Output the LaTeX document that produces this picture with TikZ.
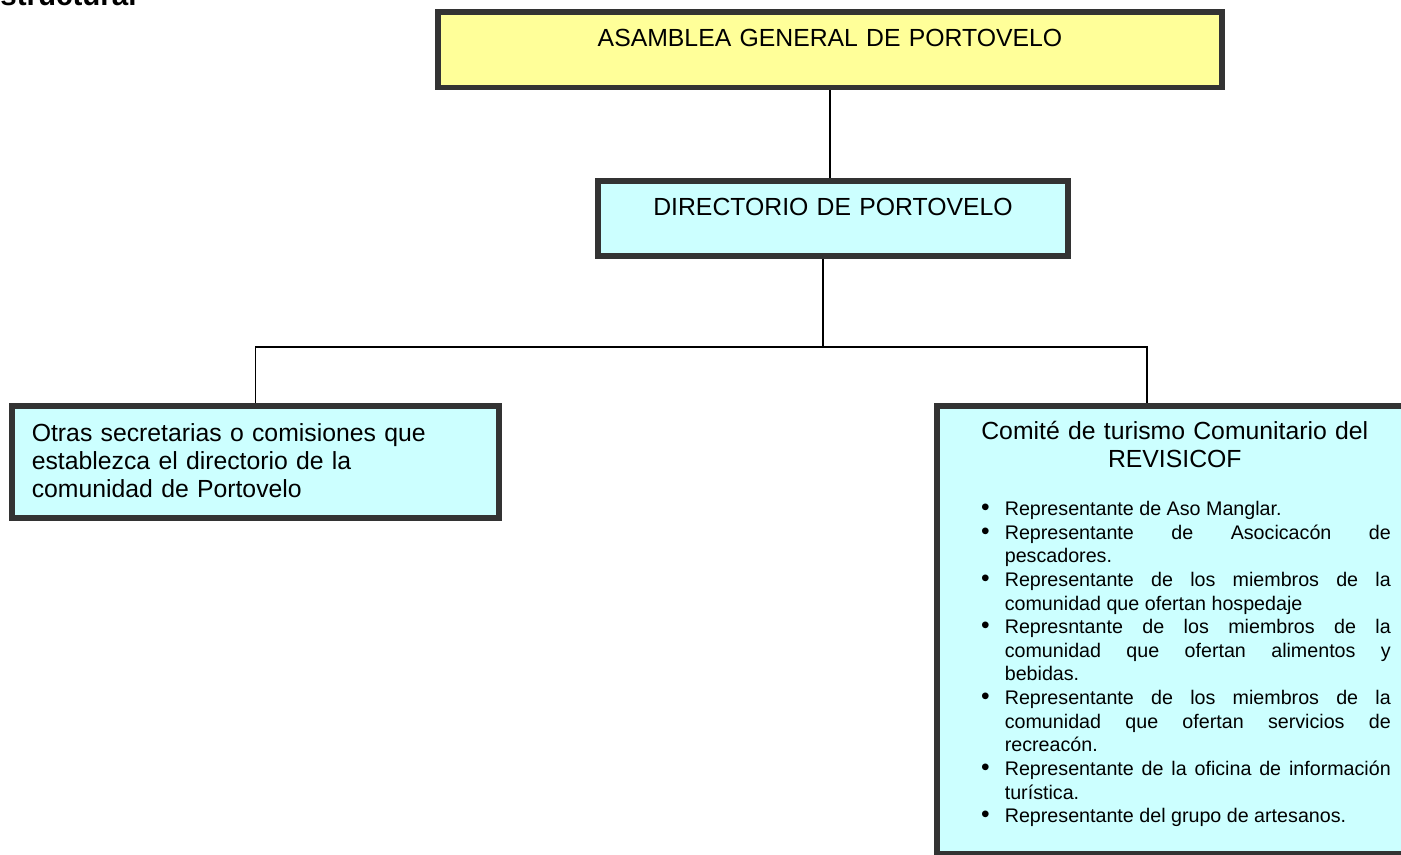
\documentclass[tikz,border=0pt]{standalone}
\usepackage{fontspec}
\setmainfont{Liberation Sans}
\usepackage{enumitem}
\usetikzlibrary{positioning, calc, backgrounds}

\definecolor{cajaamarilla}{HTML}{FFFF99}
\definecolor{cajaceleste}{HTML}{CCFFFF}
\definecolor{bordeoscuro}{HTML}{333333}

\makeatletter
\newcommand{\justificado}{\@rightskip\z@skip \rightskip\@rightskip \leftskip\z@skip
  \parfillskip\z@ plus 1fil \spaceskip\z@ \xspaceskip\z@}
\makeatother

\begin{document}
\begin{tikzpicture}[
  every node/.style={font=\fontsize{14.1}{15.9}\selectfont, inner sep=0pt},
  cargo/.style={rectangle, draw=bordeoscuro, line width=3.2pt, fill=cajaceleste},
  cargoalto/.style={cargo, align=center},
  linea/.style={draw, line width=0.8pt}
]

\path[use as bounding box] (0,0) rectangle (28.02,-17.08);
\clip (0,0) rectangle (28.02,-17.08);

\node[font=\bfseries\fontsize{16.8}{18}\selectfont, anchor=base west] (encabezado) at (0,-0.10) {structural};

\node[cargoalto, fill=cajaamarilla, text width=15.68cm, text height=0.70cm, text depth=0.81cm, anchor=north]
  (asamblea) at (16.60,-0.18) {ASAMBLEA GENERAL DE PORTOVELO};

\node[cargoalto, text width=9.40cm, text height=0.70cm, text depth=0.80cm, anchor=north]
  (directorio) at (16.66,-3.56) {DIRECTORIO DE PORTOVELO};

\node[cargo, align=left, text width=8.94cm, inner xsep=0.4cm, text height=0.72cm, text depth=1.52cm, anchor=north west]
  (otras) at (0.18,-8.06) {Otras secretarias o comisiones que\\ establezca el directorio de la\\ comunidad de Portovelo};

\node[cargo, text width=8.64cm, inner xsep=0.44cm, text height=0.68cm, text depth=8.28cm, anchor=north west]
  (comite) at (18.68,-8.06) {%
  {\centering Comité de turismo Comunitario del\\ REVISICOF\par}
  \vspace{13.7pt}
  \fontsize{11.2}{13.45}\selectfont
  \justificado
  \hyphenpenalty=10000 \tolerance=10000
  \begin{itemize}[leftmargin=0.92cm, labelsep=0.3cm, topsep=0pt, partopsep=0pt, itemsep=0pt, parsep=0pt,
                  label={\fontsize{14}{14}\selectfont\textbullet}]
    \item Representante de Aso Manglar.
    \item Representante de Asocicacón de\linebreak pescadores.
    \item Representante de los miembros de la\linebreak comunidad que ofertan hospedaje
    \item Represntante de los miembros de la\linebreak comunidad que ofertan alimentos y\linebreak bebidas.
    \item Representante de los miembros de la\linebreak comunidad que ofertan servicios de\linebreak recreacón.
    \item Representante de la oficina de información\linebreak turística.
    \item Representante del grupo de artesanos.
  \end{itemize}};

\coordinate (reparto) at (16.46,-6.94);
\coordinate (bajada) at (22.94,-6.94);

\begin{scope}[on background layer]
  \path[linea] (asamblea.south) -- (asamblea.south |- directorio.north);
  \path[linea] (reparto |- directorio.south) -- (reparto);
  \path[linea] (otras.north) |- (bajada) -- (bajada |- comite.north);
\end{scope}

\end{tikzpicture}
\end{document}
